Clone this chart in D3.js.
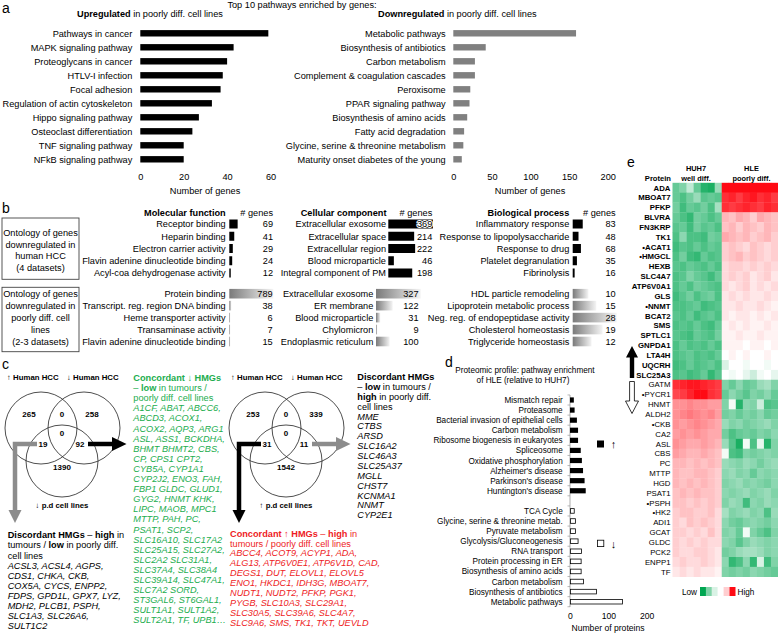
<!DOCTYPE html>
<html><head><meta charset="utf-8">
<script src="https://cdn.jsdelivr.net/npm/d3@7"></script>
<style>body{margin:0;background:#fff}svg{display:block;font-family:'Liberation Sans',Arial,sans-serif}</style>
</head><body><svg id="chart" width="778" height="633"></svg>
<script>
// ---------- Panel a ----------
const aUpLabels = ["Pathways in cancer","MAPK signaling pathway","Proteoglycans in cancer","HTLV-I infection","Focal adhesion","Regulation of actin cytoskeleton","Hippo signaling pathway","Osteoclast differentiation","TNF signaling pathway","NFkB signaling pathway"];
const aUpValues = [59,43,40,38,37,33,27,24,20,20];
const aUpTicks = [0,20,40,60];
const aDownLabels = ["Metabolic pathways","Biosynthesis of antibiotics","Carbon metabolism","Complement & coagulation cascades","Peroxisome","PPAR signaling pathway","Biosynthesis of amino acids","Fatty acid degradation","Glycine, serine & threonine metabolism","Maturity onset diabetes of the young"];
const aDownValues = [159,42,28,28,22,21,18,14,13,11];
const aDownTicks = [0,50,100,150,200];

// ---------- Panel b ----------
const bMFUpLabels = ["Receptor binding","Heparin binding","Electron carrier activity","Flavin adenine dinucleotide binding","Acyl-coa dehydrogenase activity"];
const bMFUpValues = [69,41,29,24,12];
const bCCUpLabels = ["Extracellular exosome","Extracellular space","Extracellular region","Blood microparticle","Integral component of PM"];
const bCCUpValues = [369,214,222,46,198];
const bBPUpLabels = ["Inflammatory response","Response to lipopolysaccharide","Response to drug","Platelet degranulation","Fibrinolysis"];
const bBPUpValues = [83,48,68,35,16];
const bMFLowLabels = ["Protein binding","Transcript. reg. region DNA binding","Heme transporter activity","Transaminase activity","Flavin adenine dinucleotide binding"];
const bMFLowValues = [789,38,6,7,15];
const bCCLowLabels = ["Extracellular exosome","ER membrane","Blood microparticle","Chylomicron","Endoplasmic reticulum"];
const bCCLowValues = [327,122,31,9,100];
const bBPLowLabels = ["HDL particle remodeling","Lipoprotein metabolic process","Neg. reg. of endopeptidase activity","Cholesterol homeostasis","Triglyceride homeostasis"];
const bBPLowValues = [10,15,28,19,12];
const bBox1Lines = ["Ontology of genes","downregulated in","human HCC","(4 datasets)"];
const bBox2Lines = ["Ontology of genes","downregulated in","poorly diff. cell","lines","(2-3 datasets)"];

// ---------- Panel c ----------
const venn1Values = [265,0,258,19,0,92,1390];
const venn2Values = [253,0,339,31,0,11,1542];
const discLeftHead = [[["Discordant HMGs","b"],[" – ",""],["high","b"],[" in",""]],[["tumours / ",""],["low","b"],[" in poorly diff.",""]],[["cell lines",""]]];
const discLeftGenes = ["ACSL3, ACSL4, AGPS,","CDS1, CHKA, CKB,","COX5A, CYCS, ENPP2,","FDPS, GPD1L, GPX7, LYZ,","MDH2, PLCB1, PSPH,","SLC1A3, SLC26A6,","SULT1C2"];
const greenHead = [[["Concordant ↓ HMGs","b"]],[["– ",""],["low","b"],[" in tumours /",""]],[["poorly diff. cell lines",""]]];
const greenGenes = ["A1CF, ABAT, ABCC6,","ABCD3, ACOX1,","ACOX2, AQP3, ARG1","ASL, ASS1, BCKDHA,","BHMT BHMT2, CBS,","CP, CPS1 CPT2,","CYB5A, CYP1A1","CYP2J2, ENO3, FAH,","FBP1 GLDC, GLUD1,","GYG2, HNMT KHK,","LIPC, MAOB, MPC1","MTTP, PAH, PC,","PSAT1, SCP2,","SLC16A10, SLC17A2","SLC25A15, SLC27A2,","SLC2A2 SLC31A1,","SLC37A4, SLC38A4","SLC39A14, SLC47A1,","SLC7A2 SORD,","ST3GAL6, ST6GAL1,","SULT1A1, SULT1A2,","SULT2A1, TF, UPB1…"];
const redHead = [[["Concordant ↑ HMGs","b"],[" – ",""],["high","b"],[" in",""]],[["tumours / poorly diff. cell lines",""]]];
const redGenes = ["ABCC4, ACOT9, ACYP1, ADA,","ALG13, ATP6V0E1, ATP6V1D, CAD,","DEGS1, DUT, ELOVL1, ELOVL5","ENO1, HKDC1, IDH3G, MBOAT7,","NUDT1, NUDT2, PFKP, PGK1,","PYGB, SLC10A3, SLC29A1,","SLC30A5, SLC39A6, SLC4A7,","SLC9A6, SMS, TK1, TKT, UEVLD"];
const discRightHead = [[["Discordant HMGs","b"]],[["– ",""],["low","b"],[" in tumours /",""]],[["high","b"],[" in poorly diff.",""]],[["cell lines",""]]];
const discRightGenes = ["MME","CTBS","ARSD","SLC16A2","SLC46A3","SLC25A37","MGLL","CHST7","KCNMA1","NNMT","CYP2E1"];

// ---------- Panel d ----------
const dUpLabels = ["Mismatch repair","Proteasome","Bacterial invasion of epithelial cells","Carbon metabolism","Ribosome biogenesis in eukaryotes","Spliceosome","Oxidative phosphorylation","Alzheimer's disease","Parkinson's disease","Huntington's disease"];
const dUpValues = [10,12,18,21,21,28,31,34,38,41];
const dDownLabels = ["TCA Cycle","Glycine, serine & threonine metab.","Pyruvate metabolism","Glycolysis/Gluconeogenesis","RNA transport","Protein processing in ER","Biosynthesis of amino acids","Carbon metabolism","Biosynthesis of antibiotics","Metabolic pathways"];
const dDownValues = [10,13,13,20,29,28,28,34,68,136];
const dTicks = [0,100,200];

// ---------- Panel e ----------
const heatUpGenes = ["ADA","MBOAT7","PFKP","BLVRA","FN3KRP","TK1","•ACAT1","•HMGCL","HEXB","SLC4A7","ATP6V0A1","GLS","•NNMT","BCAT2","SMS","SPTLC1","GNPDA1","LTA4H","UQCRH","SLC25A3"];
const heatDownGenes = ["GATM","•PYCR1","HNMT","ALDH2","•CKB","CA2","ASL","CBS","PC","MTTP","HGD","PSAT1","•PSPH","•HK2","ADI1","GCAT","GLDC","PCK2","ENPP1","TF"];
const heatUpValues = [
[-0.6,-0.5,-0.25,-0.6,-0.85,-0.9,-0.4, 1,1,1,1,1,1,1,1],
[-0.6,-0.7,-0.55,-0.4,-0.65,-0.6,-0.65, 0.85,0.9,0.8,0.9,0.95,0.85,0.9,0.8],
[-0.55,-0.75,-0.6,-0.65,-0.55,-0.7,-0.35, 0.85,0.8,0.85,0.9,0.85,0.8,0.9,0.85],
[-0.6,-0.7,-0.8,-0.55,-0.6,-0.7,-0.6, 0.3,0.25,0.35,0.3,0.2,0.35,0.3,0.25],
[-0.65,-0.6,-0.75,-0.55,-0.65,-0.6,-0.7, 0.25,0.3,0.2,0.3,0.25,0.2,0.3,0.25],
[-0.7,-0.45,-0.7,-0.7,-0.75,-0.55,-0.6, 0.35,0.3,0.25,0.3,0.2,0.25,0.3,0.2],
[-0.75,-0.65,-0.7,-0.6,-0.7,-0.6,-0.65, 0.2,0.25,0.2,0.15,0.25,0.2,0.15,0.2],
[-0.7,-0.55,-0.75,-0.8,-0.6,-0.7,-0.65, 0.2,0.25,0.3,0.2,0.25,0.2,0.15,0.2],
[-0.65,-0.7,-0.6,-0.65,-0.7,-0.6,-0.7, 0.15,0.2,0.2,0.15,0.2,0.15,0.2,0.15],
[-0.7,-0.65,-0.5,-0.6,-0.65,-0.75,-0.6, 0.15,0.2,0.15,0.2,0.1,0.15,0.2,0.1],
[-0.7,-0.6,-0.7,-0.55,-0.6,-0.65,-0.7, 0.15,0.1,0.15,0.2,0.1,0.15,0.1,0.15],
[-0.75,-0.65,-0.55,-0.7,-0.6,-0.55,-0.7, 0.1,0.15,0.1,0.15,0.1,0.1,0.15,0.1],
[-0.7,-0.7,-0.65,-0.6,-0.75,-0.7,-0.65, 0.1,0.1,0.15,0.1,0.1,0.15,0.1,0.05],
[-0.65,-0.7,-0.6,-0.75,-0.65,-0.6,-0.7, 0.1,0.05,0.1,0.1,0.05,0.1,0.05,0.1],
[-0.7,-0.65,-0.7,-0.6,-0.7,-0.75,-0.6, 0.05,0.1,0.05,0.1,0.05,0.05,0.1,0.05],
[-0.65,-0.7,-0.75,-0.6,-0.65,-0.7,-0.55, 0.05,0.05,0.1,0.05,0.05,0.1,0.05,0.05],
[-0.7,-0.6,-0.7,-0.65,-0.7,-0.6,-0.7, 0.05,0.05,0.05,0,0.05,0.05,0,0.05],
[-0.7,-0.65,-0.6,-0.7,-0.65,-0.7,-0.6, 0,0.05,0,0.05,0,0,0.05,0],
[-0.75,-0.7,-0.6,-0.7,-0.65,-0.6,-0.7, -0.15,0,0,-0.05,0,0,-0.05,0],
[-0.7,-0.65,-0.75,-0.7,-0.6,-0.8,-0.65, 0,-0.05,0,-0.1,-0.2,-0.05,0,-0.1]];
const heatDownValues = [
[0.85,0.9,0.95,0.95,0.9,0.85,0.8, -0.5,-0.6,-0.45,-0.6,-0.55,-0.4,-0.35,-0.5],
[0.75,0.8,0.9,1,1,0.85,0.8, -0.6,-0.45,-0.55,-0.65,-0.5,-0.55,-0.45,-0.6],
[0.45,0.45,0.5,0.45,0.45,0.4,0.4, -0.5,-0.05,-0.85,-0.45,-0.5,-0.2,-0.7,-0.65],
[0.45,0.5,0.55,0.5,0.45,0.5,0.4, -0.55,-0.5,-0.6,-0.5,-0.55,-0.45,-0.6,-0.55],
[0.45,0.4,0.45,0.5,0.45,0.4,0.35, -0.4,-0.5,-0.45,-0.55,-0.5,-0.45,-0.4,-0.5],
[0.4,0.45,0.4,0.45,0.4,0.35,0.35, -0.55,-0.7,-0.6,-0.55,-0.6,-0.5,-0.55,-0.45],
[0.45,0.4,0.35,0.35,0.4,0.35,0.3, -0.4,-0.65,-0.9,-0.05,-0.7,-0.1,-0.85,-0.5],
[0.4,0.35,0.3,0.3,0.35,0.3,0.25, -0.05,-0.7,-0.75,-0.5,-0.55,-0.5,-0.45,-0.5],
[0.3,0.3,0.25,0.3,0.25,0.3,0.25, -0.4,-0.45,-0.5,-0.4,-0.45,-0.55,-0.45,-0.4],
[0.3,0.25,0.25,0.3,0.3,0.25,0.2, -0.45,-0.4,-0.5,-0.45,-0.6,-0.45,-0.5,-0.45],
[0.3,0.25,0.3,0.25,0.3,0.25,0.2, -0.5,-0.45,-0.4,-0.5,-0.45,-0.5,-0.55,-0.45],
[0.25,0.3,0.25,0.3,0.25,0.25,0.2, -0.45,-0.5,-0.45,-0.4,-0.5,-0.45,-0.4,-0.5],
[0.25,0.25,0.2,0.25,0.2,0.25,0.2, -0.5,-0.4,-0.45,-0.75,-0.45,-0.5,-0.4,-0.45],
[0.2,0.25,0.25,0.2,0.2,0.25,0.15, -0.35,-0.5,-0.45,-0.4,-0.5,-0.45,-0.7,-0.4],
[0.2,0.15,0.25,0.2,0.25,0.2,0.15, -0.45,-0.55,-0.6,-0.5,-0.45,-0.5,-0.55,-0.45],
[0.2,0.2,0.15,0.2,0.15,0.25,0.15, -0.5,-0.45,-0.6,-0.05,-0.5,-0.6,-0.7,-0.5],
[0.2,0.15,0.2,0.15,0.2,0.15,0.15, -0.45,-0.5,-0.65,-0.5,-0.4,-0.45,-0.5,-0.45],
[0.2,0.15,0.15,0.2,0.2,0.15,0.1, -0.55,-0.5,-0.4,-0.35,-0.35,-0.4,-0.5,-0.45],
[0.15,0.2,0.15,0.15,0.2,0.15,0.1, -0.45,-0.8,-0.7,-0.45,-0.8,-0.15,-0.75,-0.5],
[0.1,0.15,0.1,0.15,0.1,0.1,0.05, -0.5,-0.55,-0.5,-0.55,-0.45,-0.5,-0.55,-0.6]];
const heatColumns = ["h1","h2","h3","h4","h5","h6","h7","l1","l2","l3","l4","l5","l6","l7","l8"];
const heatLegendValues = [-1,-0.5,-0.15,0,0.2,1];

// =================== drawing ===================
const svg = d3.select("#chart");
const FS = 9.2;
function T(g,x,y,s,o={}){
  const t=g.append("text").attr("x",x).attr("y",y).text(s).attr("font-size",o.size||FS).attr("fill",o.fill||"#000");
  if(o.anchor) t.attr("text-anchor",o.anchor);
  if(o.bold) t.attr("font-weight","bold");
  if(o.italic) t.attr("font-style","italic");
  return t;
}
function rich(g,x,y,segs,fill,size){
  const t=g.append("text").attr("x",x).attr("y",y).attr("font-size",size||FS).attr("fill",fill);
  segs.forEach(s=>{const sp=t.append("tspan").text(s[0]); if(s[1].includes("b")) sp.attr("font-weight","bold"); if(s[1].includes("i")) sp.attr("font-style","italic");});
}
// panel letters
T(svg,2,13,"a",{size:14}); T(svg,2,213,"b",{size:14}); T(svg,2,369,"c",{size:14});
T(svg,445,367,"d",{size:14}); T(svg,627,167,"e",{size:14});

// ---- a ----
T(svg,302,8,"Top 10 pathways enriched by genes:",{anchor:"middle"});
rich(svg,77,16.5,[["Upregulated","b"],[" in poorly diff. cell lines",""]],"#000");
rich(svg,378,16.5,[["Downregulated","b"],[" in poorly diff. cell lines",""]],"#000");
function aPanel(labels,values,ticks,x0,x1,labelRight,color,titleX){
  const g=svg.append("g");
  const x=d3.scaleLinear().domain([ticks[0],ticks[ticks.length-1]]).range([x0,x1]);
  const y=d3.scalePoint().domain(labels).range([33.3,159.3]);
  g.selectAll("rect").data(values).join("rect").attr("x",x(0)).attr("y",(d,i)=>y(labels[i])-3.2)
    .attr("width",d=>x(d)-x(0)).attr("height",6.4).attr("fill",color);
  labels.forEach(l=>T(g,labelRight,y(l)+3.3,l,{anchor:"end"}));
  const ax=g.append("g").attr("transform","translate(0,171.5)").call(d3.axisBottom(x).tickValues(ticks).tickSize(0).tickPadding(2).tickFormat(d3.format("d")));
  ax.select(".domain").remove();
  ax.attr("font-family",null).attr("font-size",9.2);
  ax.selectAll("text").attr("fill","#000");
  T(g,titleX,194,"Number of genes",{anchor:"middle"});
}
aPanel(aUpLabels,aUpValues,aUpTicks,140.3,270.5,132.3,"#000",205);
aPanel(aDownLabels,aDownValues,aDownTicks,453.3,607.7,445.7,"#808080",530);

// ---- b ----
const defs=svg.append("defs");
const gr=defs.append("linearGradient").attr("id","gg").attr("x1","0").attr("x2","1").attr("y1","0").attr("y2","0");
gr.append("stop").attr("offset","0").attr("stop-color","#7a7a7a");
gr.append("stop").attr("offset","1").attr("stop-color","#f4f4f4");
const bg=svg.append("g");
T(bg,225.7,216,"Molecular function",{anchor:"end",bold:true});
T(bg,273,216,"# genes",{anchor:"end"});
T(bg,386.5,216,"Cellular component",{anchor:"end",bold:true});
T(bg,432.3,216,"# genes",{anchor:"end"});
T(bg,569.3,216,"Biological process",{anchor:"end",bold:true});
T(bg,615.7,216,"# genes",{anchor:"end"});
const yUp=d3.scalePoint().domain(d3.range(5)).range([224,273]);
const yLow=d3.scalePoint().domain(d3.range(5)).range([293.7,341.5]);
const upScale=d3.scaleLinear().domain([0,369]).range([0,44.6]);
function bCol(labels,values,scale,lr,bx,nr,y,fill,h){
  labels.forEach((l,i)=>{
    T(bg,lr,y(i)+3.3,l,{anchor:"end"});
    bg.append("rect").attr("x",bx).attr("y",y(i)-h/2).attr("width",Math.max(1,scale(values[i]))).attr("height",h).attr("fill",fill);
    T(bg,nr,y(i)+3.3,values[i],{anchor:"end"}).attr("stroke",fill==="#000"?"#fff":"none").attr("stroke-width",2).attr("paint-order","stroke");
  });
}
bCol(bMFUpLabels,bMFUpValues,upScale,225.7,229.3,273,yUp,"#000",9);
bCol(bCCUpLabels,bCCUpValues,upScale,386,388.3,432.3,yUp,"#000",9);
bCol(bBPUpLabels,bBPUpValues,upScale,569.3,572.7,615.7,yUp,"#000",9);
bCol(bMFLowLabels,bMFLowValues,d3.scaleLinear().domain([0,d3.max(bMFLowValues)]).range([0,44]),225.7,229.3,272.7,yLow,"url(#gg)",9.6);
bCol(bCCLowLabels,bCCLowValues,d3.scaleLinear().domain([0,d3.max(bCCLowValues)]).range([0,44.7]),373.3,376,418.5,yLow,"url(#gg)",9.6);
bCol(bBPLowLabels,bBPLowValues,d3.scaleLinear().domain([0,d3.max(bBPLowValues)]).range([0,44]),569.3,572.7,615.7,yLow,"url(#gg)",9.6);
bg.append("rect").attr("x",2).attr("y",218).attr("width",77).attr("height",61.3).attr("fill","none").attr("stroke","#444").attr("stroke-width",0.9);
bg.append("rect").attr("x",2).attr("y",287.3).attr("width",77).attr("height",64.4).attr("fill","none").attr("stroke","#444").attr("stroke-width",0.9);
bBox1Lines.forEach((l,i)=>T(bg,40.5,236+i*11.6,l,{anchor:"middle"}));
bBox2Lines.forEach((l,i)=>T(bg,40.5,297.3+i*11.9,l,{anchor:"middle"}));

// ---- c ----
const cg=svg.append("g");
function venn(dx,vals,topL,topR,bottomL,leftColor,rightColor){
  const g=cg.append("g").attr("transform",`translate(${dx},0)`);
  [[41,428],[84,428],[62,461]].forEach(c=>g.append("circle").attr("cx",c[0]).attr("cy",c[1]).attr("r",36).attr("fill","none").attr("stroke","#222").attr("stroke-width",0.8));
  const pos=[[29,414],[62,414],[92,414],[43,444],[62,433],[80,444],[62,467]];
  vals.forEach((v,i)=>T(g,pos[i][0],pos[i][1]+3,v,{anchor:"middle",bold:true,size:8}));
  T(g,7,379.5,topL,{bold:true,size:7.8});
  T(g,67,379.5,topR,{bold:true,size:7.8});
  T(g,62,508,bottomL,{bold:true,size:7.8,anchor:"middle"});
  g.append("path").attr("d","M37,444H15V511").attr("fill","none").attr("stroke",leftColor).attr("stroke-width",4.5);
  g.append("path").attr("d","M8.5,510L21.5,510L15,523Z").attr("fill",leftColor);
  g.append("path").attr("d","M88,444H113").attr("stroke",rightColor).attr("stroke-width",4.5);
  g.append("path").attr("d","M112,437L112,451L126.5,444Z").attr("fill",rightColor);
}
venn(0,venn1Values,"↑ Human HCC","↓ Human HCC","↓ p.d cell lines","#8c8c8c","#000");
venn(224,venn2Values,"↑ Human HCC","↓ Human HCC","↑ p.d cell lines","#000","#8c8c8c");
function block(x,y0,step,head,genes,color){
  head.forEach((segs,i)=>rich(cg,x,y0+i*step+3.3,segs,color));
  genes.forEach((s,i)=>T(cg,x,y0+(head.length+i)*step+3.3,s,{italic:true,fill:color}));
}
block(7.7,535,10.1,discLeftHead,discLeftGenes,"#000");
block(133.3,377.7,10.1,greenHead,greenGenes,"#22ad4e");
block(230,533.3,9.93,redHead,redGenes,"#ee1c25");
block(357.3,376.7,9.88,discRightHead,discRightGenes,"#000");

// ---- d ----
const dg=svg.append("g");
T(dg,525,373,"Proteomic profile: pathway enrichment",{anchor:"middle",size:8.2});
T(dg,523,383,"of HLE (relative to HUH7)",{anchor:"middle",size:8.2});
const dKeys=[...dUpLabels.map((l,i)=>"u"+i),"gap",...dDownLabels.map((l,i)=>"d"+i)];
const dy=d3.scalePoint().domain(dKeys).range([400,601.7]);
const dx=d3.scaleLinear().domain([0,200]).range([570,646.7]);
dg.append("line").attr("x1",570).attr("x2",570).attr("y1",395).attr("y2",607).attr("stroke","#9a9a9a").attr("stroke-width",0.8);
const stp=dy.step();
d3.range(22).forEach(i=>dg.append("line").attr("x1",567.5).attr("x2",570).attr("y1",400-stp/2+i*stp).attr("y2",400-stp/2+i*stp).attr("stroke","#9a9a9a").attr("stroke-width",0.7));
dUpValues.forEach((v,i)=>{
  dg.append("rect").attr("x",dx(0)).attr("y",dy("u"+i)-2.6).attr("width",dx(v)-dx(0)).attr("height",5.2).attr("fill","#000");
  T(dg,562.7,dy("u"+i)+3,dUpLabels[i],{anchor:"end",size:8.2});
});
dDownValues.forEach((v,i)=>{
  dg.append("rect").attr("x",dx(0)+0.4).attr("y",dy("d"+i)-2.3).attr("width",dx(v)-dx(0)).attr("height",4.6).attr("fill","#fff").attr("stroke","#000").attr("stroke-width",0.8);
  T(dg,562.7,dy("d"+i)+3,dDownLabels[i],{anchor:"end",size:8.2});
});
const dax=dg.append("g").attr("transform","translate(0,612)").call(d3.axisBottom(dx).tickValues(dTicks).tickSize(0).tickPadding(1));
dax.select(".domain").remove(); dax.attr("font-family",null).attr("font-size",8.6); dax.selectAll("text").attr("fill","#000");
T(dg,608,631,"Number of proteins",{anchor:"middle",size:8.6});
dg.append("rect").attr("x",597).attr("y",440.5).attr("width",7).attr("height",7).attr("fill","#000");
T(dg,613.5,448,"↑",{anchor:"middle",size:11});
dg.append("rect").attr("x",597.4).attr("y",540.2).attr("width",6.4).attr("height",6.4).attr("fill","#fff").attr("stroke","#000").attr("stroke-width",0.8);
T(dg,613.5,548,"↓",{anchor:"middle",size:11});

// ---- e ----
const eg=svg.append("g");
const genes=[...heatUpGenes,...heatDownGenes];
const vals=[...heatUpValues,...heatDownValues];
const hx=d3.scaleBand().domain(heatColumns).range([672.5,778]);
const hy=d3.scaleBand().domain(genes).range([182.8,576.7]);
const gI=d3.interpolateRgb("#ffffff","#00a651"), rI=d3.interpolateRgb("#ffffff","#ff0a14");
const col=v=>v<0?gI(-v):rI(v);
vals.forEach((row,ri)=>row.forEach((v,ci)=>eg.append("rect").attr("x",hx(heatColumns[ci])).attr("y",hy(genes[ri])).attr("width",hx.bandwidth()+0.3).attr("height",hy.bandwidth()+0.3).attr("fill",col(v))));
genes.forEach((gname,i)=>T(eg,670.5,hy(gname)+hy.bandwidth()/2+2.8,gname,{anchor:"end",size:7.8,bold:i<20}));
T(eg,671,181,"Protein",{anchor:"end",size:7.6,bold:true});
T(eg,696,171,"HUH7",{anchor:"middle",size:7.4,bold:true});
T(eg,696,181,"well diff.",{anchor:"middle",size:7.4,bold:true});
T(eg,751.5,171,"HLE",{anchor:"middle",size:7.4,bold:true});
T(eg,751.5,181,"poorly diff.",{anchor:"middle",size:7.4,bold:true});
eg.append("path").attr("d","M629.8,378V357.5H626L632,346L638,357.5H634.2V378Z").attr("fill","#000");
eg.append("path").attr("d","M629.6,381.5V401H625.5L632,413.5L638.5,401H634.4V381.5Z").attr("fill","#fff").attr("stroke","#000").attr("stroke-width",0.8);
T(eg,697,594.5,"Low",{anchor:"end",size:8.2});
heatLegendValues.forEach((v,i)=>eg.append("rect").attr("x",700+i*5.9).attr("y",587).attr("width",6).attr("height",9).attr("fill",col(v)));
T(eg,737.5,594.5,"High",{size:8.2});
</script></body></html>
